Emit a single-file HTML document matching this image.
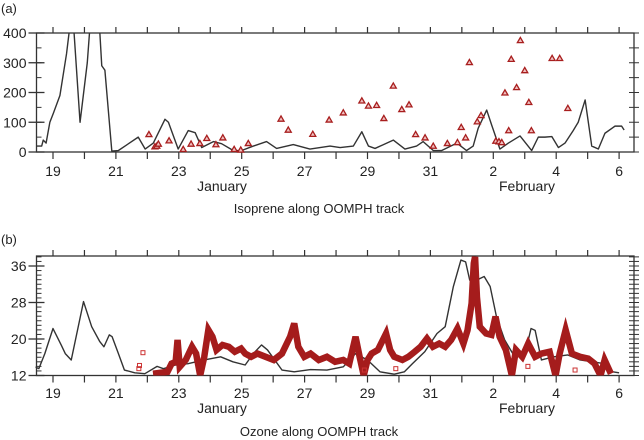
<!DOCTYPE html>
<html><head><meta charset="utf-8">
<style>
html,body{margin:0;padding:0;background:#fff;}
svg{display:block;font-family:"Liberation Sans",sans-serif;}
text{fill:#222;}
</style></head>
<body>
<svg id="chart" width="644" height="440" viewBox="0 0 644 440" xmlns="http://www.w3.org/2000/svg">
<defs>
<clipPath id="clipA"><rect x="36.5" y="33" width="597.5" height="119"/></clipPath>
<clipPath id="clipB"><rect x="35.5" y="256" width="598.5" height="119.5"/></clipPath>
</defs>
<g id="panelA"></g>
<g id="panelB"></g>
</svg>
<script>
// day offsets from Jan 19 (0) to Feb 6 (18)
const dayTickLabels = ["19","21","23","25","27","29","31","2","4","6"];
const isoModelDays = [-0.52,-0.36,-0.31,-0.22,-0.10,0.01,0.22,0.43,0.51,0.56,0.63,0.67,0.86,1.09,1.16,1.20,1.44,1.49,1.55,1.65,1.87,2.08,2.29,2.71,2.93,3.19,3.56,3.67,3.98,4.30,4.52,4.73,5.10,5.36,5.73,6.00,6.37,6.79,7.11,7.64,8.17,8.81,9.13,9.55,9.82,10.03,10.24,10.82,11.19,11.56,11.77,12.09,12.36,12.84,13.15,13.36,13.52,13.79,13.95,14.21,14.48,14.85,15.22,15.43,15.64,15.86,16.07,16.28,16.54,16.70,16.92,17.13,17.34,17.55,17.87,18.08,18.16];
const isoModelVals = [20,20,40,30,100,130,190,330,400,460,460,400,100,300,400,460,460,400,290,275,3,5,20,50,10,30,110,100,10,72,65,15,35,28,5,5,20,35,12,25,10,20,15,20,68,20,12,40,10,20,35,5,5,30,5,20,80,141,90,10,30,54,5,50,50,52,15,30,72,100,175,20,10,63,87,87,74];
const isoObsDays = [3.05,3.24,3.30,3.35,3.69,4.14,4.39,4.67,4.89,5.18,5.40,5.76,5.97,6.21,7.25,7.48,8.26,8.78,9.23,9.82,10.03,10.29,10.52,10.82,11.09,11.32,11.53,11.83,12.09,12.54,12.86,12.98,13.12,13.24,13.49,13.61,14.08,14.18,14.27,14.37,14.49,14.57,14.74,14.86,15.00,15.13,15.21,15.87,16.11,16.37];
const isoObsVals = [59,18,20,27,38,9,27,29,46,25,48,9,7,29,111,74,60,108,132,172,155,157,113,222,143,159,59,48,20,29,32,83,48,301,102,123,37,35,32,199,72,312,217,375,274,167,72,315,315,147];
const isoYTicks = [0,100,200,300,400];

const o3ModelDays = [-0.58,-0.45,-0.26,0,0.26,0.39,0.58,0.97,1.23,1.49,1.62,1.79,1.88,2.08,2.27,2.60,2.92,3.31,3.51,3.90,4.29,4.81,5.33,5.72,6.11,6.37,6.63,6.82,7.28,7.67,8.19,8.71,9.23,9.62,10.0,10.4,10.85,11.17,11.43,11.82,12.21,12.47,12.73,12.97,13.12,13.25,13.38,13.71,13.90,14.10,14.36,14.68,15.01,15.20,15.33,15.53,15.92,16.37,16.76,17.15,17.54,17.80,18.0];
const o3ModelVals = [13.9,13.5,16.8,22.3,18.7,16.8,15.4,28.2,22.7,19.4,18.3,20.9,20.5,16.8,13.2,12.6,12.4,14.0,13.5,14.3,14.6,15.4,16.1,15.0,14.3,16.8,18.7,17.6,13.2,12.8,13.3,13.2,13.9,16.8,15.4,12.8,12.3,12.8,14.6,17.2,21.2,22.7,31.5,37.3,36.9,32.9,32.6,33.7,31.5,24.9,19.8,16.1,16.8,22.3,21.9,15.4,16.1,16.5,15.4,15.0,14.6,12.8,12.6];
const o3ObsDays = [3.18,3.64,3.77,3.90,3.96,4.03,4.22,4.42,4.55,4.68,4.81,4.94,5.07,5.2,5.39,5.59,5.78,5.98,6.11,6.30,6.50,6.76,7.02,7.28,7.54,7.67,7.80,7.99,8.19,8.45,8.71,8.97,9.23,9.42,9.62,9.75,9.88,10.0,10.13,10.33,10.59,10.72,10.85,11.11,11.30,11.50,11.69,11.89,12.08,12.28,12.47,12.66,12.86,13.05,13.18,13.31,13.38,13.42,13.48,13.57,13.77,13.94,14.07,14.20,14.40,14.59,14.72,14.92,15.11,15.33,15.53,15.79,15.98,16.11,16.30,16.50,16.76,17.02,17.22,17.41,17.54,17.74];
const o3ObsVals = [12.4,12.8,14.6,15,19.8,13.9,15.4,18.3,16.8,12,16.1,22,20.5,17.6,18.7,18.3,17.2,17.9,16.8,16.1,16.8,16.1,15.4,16.8,20.5,23.4,18.3,16.1,16.8,15.4,16.1,15,15.4,14.6,20.5,16.1,12,15.4,16.8,17.6,21.2,17.6,16.1,15.4,16.1,17.2,18.3,20.1,18.3,19.0,18.3,19.8,22.3,19.0,21.9,27.8,36.6,38,29.2,22.7,21.2,20.9,24.9,20.5,17.6,12,17.6,16.1,19.0,16.1,16.8,17.2,12,16.8,22,16.8,16.1,15.7,14.6,12,15.4,12.4];
const o3ScatterDays = [2.73,2.75,2.86,9.9,10.9,15.1,16.6];
const o3ScatterVals = [13.5,14.2,17.0,13.2,13.5,14.0,13.2];
const o3YTicks = [12,20,28,36];

const NS = "http://www.w3.org/2000/svg";
function mk(tag, attrs, parent){const e=document.createElementNS(NS,tag);for(const k in attrs)e.setAttribute(k,attrs[k]);parent.appendChild(e);return e;}
const X0=36.5, X1=634;
const xDay = d => 53 + d*31.45;

function drawFrame(g, top, bot, yScale, yTicks, minorStep, ymin, ymax, labelY, monthY, titleY, title, panelLetter, letterY){
  const fr = mk('rect',{x:X0,y:top,width:X1-X0,height:bot-top,fill:'none',stroke:'#333','stroke-width':1.3},g);
  
  
  for(let d=-0; d<=18; d++){
    const x=xDay(d);
    const t1=mk('line',{x1:x,x2:x,y1:top-6,y2:top,stroke:'#333','stroke-width':1.2},g);
    
    
    const t2=mk('line',{x1:x,x2:x,y1:bot,y2:bot+7,stroke:'#333','stroke-width':1.2},g);
    
    
  }
  dayTickLabels.forEach((lab,i)=>{
    const t=mk('text',{x:xDay(i*2),y:labelY,'font-size':14,'text-anchor':'middle'},g);
    t.textContent=lab;
    
    
  });
  for(let v=ymin; v<=ymax+1e-9; v+=minorStep){
    const y=yScale(v);
    const a=mk('line',{x1:X0,x2:X0+5,y1:y,y2:y,stroke:'#333','stroke-width':1},g);
    
    
    const b=mk('line',{x1:X1-5,x2:X1+5,y1:y,y2:y,stroke:'#333','stroke-width':1},g);
    
    
  }
  yTicks.forEach(v=>{
    const y=yScale(v);
    const l=mk('line',{x1:X0-8,x2:X0+8,y1:y,y2:y,stroke:'#333','stroke-width':1.3},g);
    
    
    const t=mk('text',{x:X0-10,y:y+5,'font-size':14,'text-anchor':'end'},g);
    t.textContent=String(v);
    
    
  });
  const jan=mk('text',{x:222,y:monthY,'font-size':14,'text-anchor':'middle'},g);
  jan.textContent='January';
  
  
  const feb=mk('text',{x:527,y:monthY,'font-size':14,'text-anchor':'middle'},g);
  feb.textContent='February';
  
  
  const tt=mk('text',{x:319,y:titleY,'font-size':13,'text-anchor':'middle'},g);
  tt.textContent=title;
  
  
  const pl=mk('text',{x:1,y:letterY,'font-size':13},g);
  pl.textContent=panelLetter;
  
  
}

const gA=document.getElementById('panelA');
const yA = v => 152 - v*(119/400);
drawFrame(gA,33,152,yA,isoYTicks,50,0,400,176,191,213,'Isoprene along OOMPH track','(a)',13);
const lineA=mk('polyline',{points:isoModelDays.map((d,i)=>xDay(d)+','+yA(isoModelVals[i])).join(' '),fill:'none',stroke:'#333','stroke-width':1.4,'clip-path':'url(#clipA)','stroke-linejoin':'round'},gA);


isoObsDays.forEach((d,i)=>{
  const x=xDay(d), y=yA(isoObsVals[i]);
  const p=mk('polygon',{points:`${x},${y-3} ${x-3},${y+2.2} ${x+3},${y+2.2}`,fill:'#f0c0c0',stroke:'#a81e1e','stroke-width':1.3},gA);
  
  
});

const gB=document.getElementById('panelB');
const yB = v => 375.5 - (v-12)*(109.5/24);
drawFrame(gB,256,375.5,yB,o3YTicks,1,12,38,398,413,436,'Ozone along OOMPH track','(b)',244);
const lineB=mk('polyline',{points:o3ModelDays.map((d,i)=>xDay(d)+','+yB(o3ModelVals[i])).join(' '),fill:'none',stroke:'#333','stroke-width':1.4,'clip-path':'url(#clipB)','stroke-linejoin':'round'},gB);


const obsB=mk('polyline',{points:o3ObsDays.map((d,i)=>xDay(d)+','+yB(o3ObsVals[i])).join(' '),fill:'none',stroke:'#a51c1c','stroke-width':6.5,'clip-path':'url(#clipB)','stroke-linejoin':'miter'},gB);


o3ScatterDays.forEach((d,i)=>{
  const x=xDay(d), y=yB(o3ScatterVals[i]);
  const s=mk('rect',{x:x-2,y:y-2,width:4,height:4,fill:'none',stroke:'#c33','stroke-width':1},gB);
  
  
});
</script>
</body></html>
